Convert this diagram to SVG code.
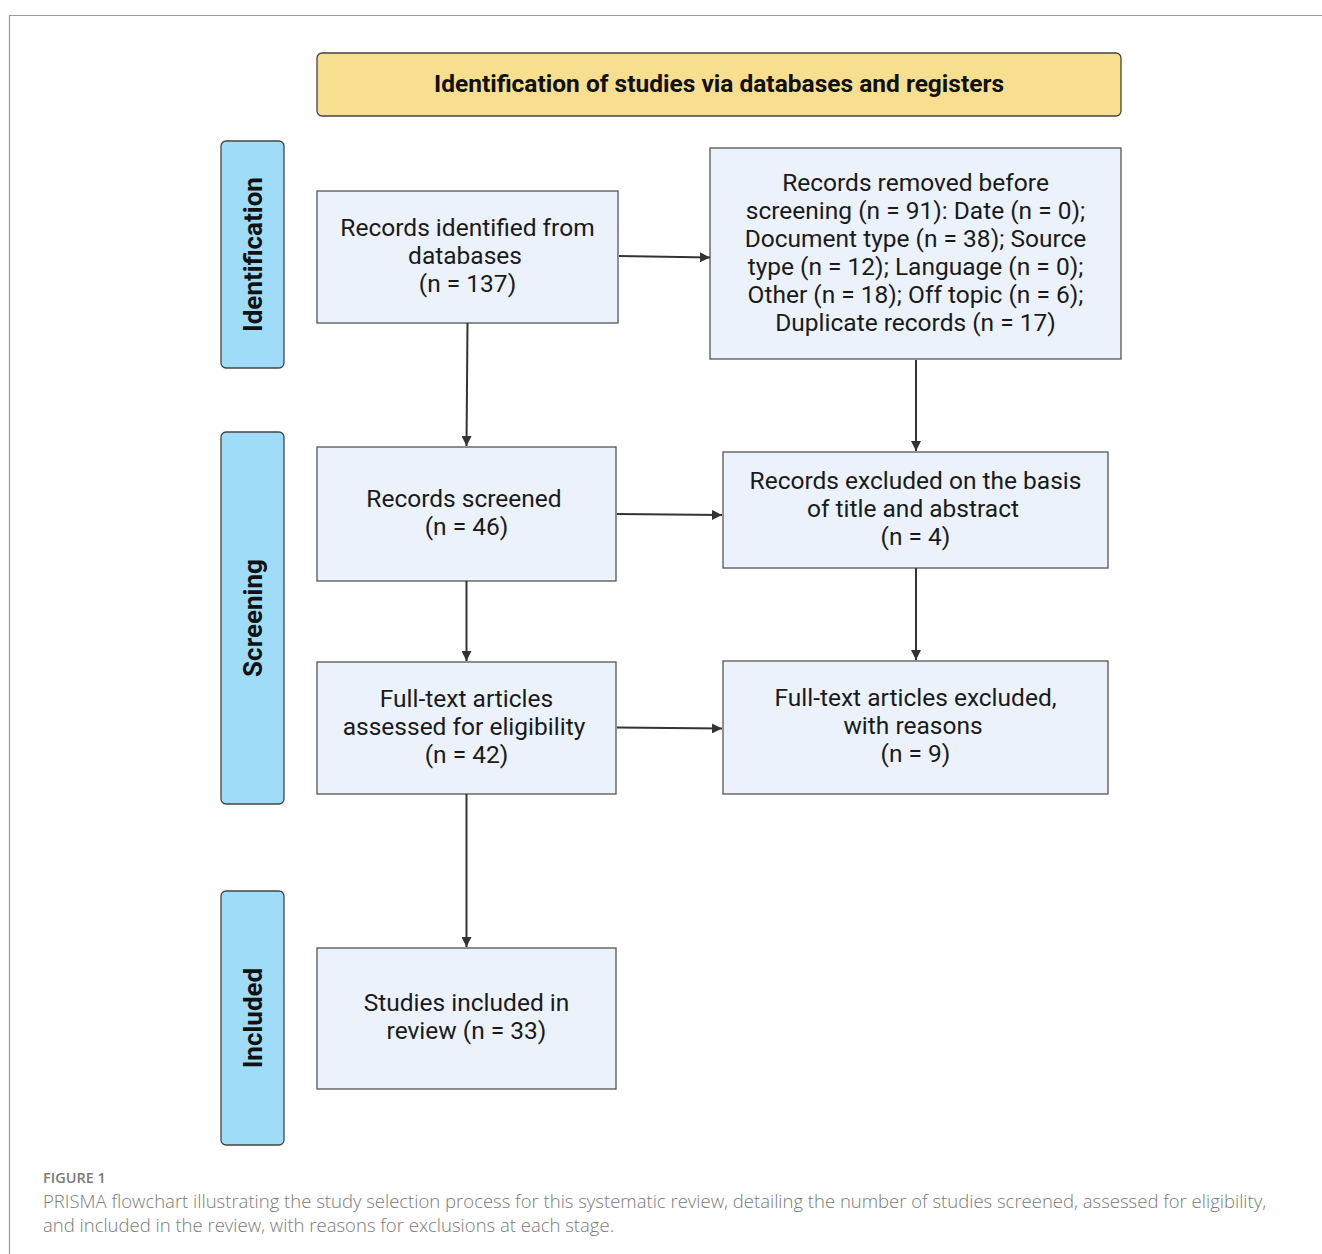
<svg xmlns="http://www.w3.org/2000/svg" width="1322" height="1254" viewBox="0 0 1322 1254">
<defs>
<marker id="ah" viewBox="0 0 10 10" refX="10" refY="5" markerWidth="10" markerHeight="10" markerUnits="userSpaceOnUse" orient="auto">
<path d="M0,0 L10,5 L0,10 z" fill="#333"/>
</marker>
<style>
.box{fill:#EBF2FB;stroke:#555;stroke-width:1.3}
.side{fill:#9EDCF8;stroke:#444;stroke-width:1.3}
.hdr{fill:#F8DF8F;stroke:#444;stroke-width:1.3}
.t{font-family:Roboto,"Liberation Sans",sans-serif;font-size:24.5px;fill:#1a1a1a;text-anchor:middle}
.b{font-family:Roboto,"Liberation Sans",sans-serif;font-size:24.5px;font-weight:bold;fill:#111;text-anchor:middle}
.s{font-family:Roboto,"Liberation Sans",sans-serif;font-size:26px;font-weight:bold;fill:#111;text-anchor:middle}
.c line{stroke:#333;stroke-width:2}
.cap{font-family:"Open Sans","Liberation Sans",sans-serif;fill:#7a7a7a}
</style>
</defs>
<rect width="1322" height="1254" fill="#fff"/>
<path d="M1322,15.5 H9.5 V1254" fill="none" stroke="#999" stroke-width="1.2"/>

<g id="header">
<rect class="hdr" x="317" y="53" width="804" height="63" rx="5"/>
<text class="b" x="719" y="92">Identification of studies via databases and registers</text>
</g>

<g id="stage-identification">
<rect class="side" x="221" y="141" width="63" height="227" rx="5"/>
<text class="s" transform="translate(262,254.5) rotate(-90)">Identification</text>
</g>
<g id="stage-screening">
<rect class="side" x="221" y="432" width="63" height="372" rx="5"/>
<text class="s" transform="translate(262,618) rotate(-90)">Screening</text>
</g>
<g id="stage-included">
<rect class="side" x="221" y="891" width="63" height="254" rx="5"/>
<text class="s" transform="translate(262,1018) rotate(-90)">Included</text>
</g>

<g id="records-identified">
<rect class="box" x="317" y="191" width="301" height="132"/>
<text class="t" x="467.5" y="235.5">Records identified from</text>
<text class="t" x="465" y="263.5">databases</text>
<text class="t" x="467.5" y="291.5">(n = 137)</text>
</g>
<g id="records-removed">
<rect class="box" x="710" y="148" width="411" height="211"/>
<text class="t" x="915.5" y="190.5">Records removed before</text>
<text class="t" x="915.5" y="218.5">screening (n = 91): Date (n = 0);</text>
<text class="t" x="915.5" y="246.5">Document type (n = 38); Source</text>
<text class="t" x="915.5" y="274.5">type (n = 12); Language (n = 0);</text>
<text class="t" x="915.5" y="302.5">Other (n = 18); Off topic (n = 6);</text>
<text class="t" x="915.5" y="330.5">Duplicate records (n = 17)</text>
</g>
<g id="records-screened">
<rect class="box" x="317" y="447" width="299" height="134"/>
<text class="t" x="464" y="506.5">Records screened</text>
<text class="t" x="466.5" y="534.5">(n = 46)</text>
</g>
<g id="records-excluded">
<rect class="box" x="723" y="452" width="385" height="116"/>
<text class="t" x="915.5" y="488.5">Records excluded on the basis</text>
<text class="t" x="913" y="516.5">of title and abstract</text>
<text class="t" x="915.5" y="544.5">(n = 4)</text>
</g>
<g id="fulltext-assessed">
<rect class="box" x="317" y="662" width="299" height="132"/>
<text class="t" x="466.5" y="706.5">Full-text articles</text>
<text class="t" x="464" y="734.5">assessed for eligibility</text>
<text class="t" x="466.5" y="762.5">(n = 42)</text>
</g>
<g id="fulltext-excluded">
<rect class="box" x="723" y="661" width="385" height="133"/>
<text class="t" x="915.5" y="705.5">Full-text articles excluded,</text>
<text class="t" x="913" y="733.5">with reasons</text>
<text class="t" x="915.5" y="761.5">(n = 9)</text>
</g>
<g id="studies-included">
<rect class="box" x="317" y="948" width="299" height="141"/>
<text class="t" x="466.5" y="1010.5">Studies included in</text>
<text class="t" x="466.5" y="1038.5">review (n = 33)</text>
</g>

<g id="connectors" class="c">
<line x1="619" y1="256" x2="710" y2="257.5" marker-end="url(#ah)"/>
<line x1="467.5" y1="323" x2="466.5" y2="446" marker-end="url(#ah)"/>
<line x1="916" y1="360" x2="916" y2="451" marker-end="url(#ah)"/>
<line x1="617" y1="514" x2="722" y2="515" marker-end="url(#ah)"/>
<line x1="466.5" y1="581" x2="466.5" y2="661" marker-end="url(#ah)"/>
<line x1="916" y1="568" x2="916" y2="660" marker-end="url(#ah)"/>
<line x1="617" y1="727.5" x2="722" y2="728.5" marker-end="url(#ah)"/>
<line x1="466.5" y1="794" x2="466.5" y2="947" marker-end="url(#ah)"/>
</g>

<g id="caption">
<text class="cap" x="43" y="1183" font-size="14.5" font-weight="600">FIGURE 1</text>
<text class="cap" x="43" y="1208" font-size="18.5" font-weight="300">PRISMA flowchart illustrating the study selection process for this systematic review, detailing the number of studies screened, assessed for eligibility,</text>
<text class="cap" x="43" y="1232" font-size="18.5" font-weight="300">and included in the review, with reasons for exclusions at each stage.</text>
</g>
</svg>
